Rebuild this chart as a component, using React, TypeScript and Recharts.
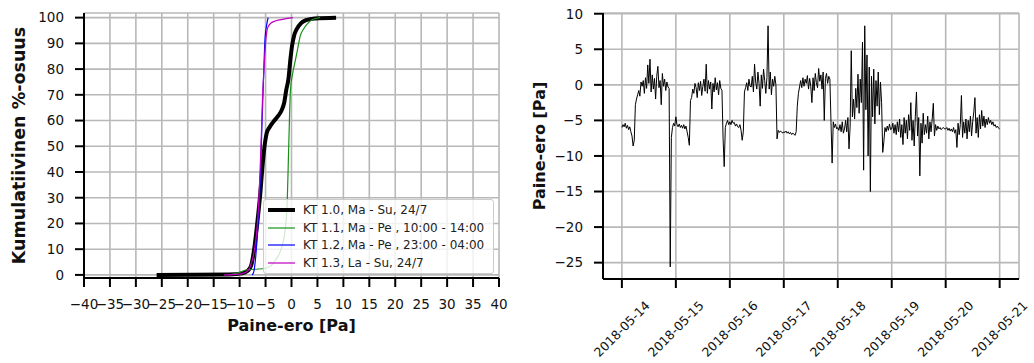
import { LineChart, Line, XAxis, YAxis, CartesianGrid, Legend } from 'recharts';

// cumulative distribution, [paine-ero Pa, % osuus]
const kt10 = [
  [-26, 0], [-12, 0.2], [-9.5, 0.6], [-8.5, 1.5], [-7.8, 3.5], [-7.2, 10], [-6.5, 22], [-6.0, 32],
  [-5.6, 42], [-5.2, 50], [-4.8, 55], [-4.2, 57.5], [-3.5, 59.5], [-2.5, 62], [-1.9, 64], [-1.4, 67],
  [-1.0, 72], [-0.6, 76], [-0.2, 84], [0.1, 89], [0.5, 93], [1.0, 95.5], [1.8, 97.8], [2.8, 99],
  [4.5, 99.7], [8.6, 100],
];
const kt11 = [
  [-12, 0], [-10, 1], [-9, 1.8], [-7, 2.2], [-5, 2.6], [-4, 3.5], [-3, 6], [-2, 10], [-1.2, 18],
  [-0.8, 30], [-0.6, 45], [-0.4, 60], [-0.2, 72], [0.2, 78], [0.7, 83], [1.2, 88], [1.7, 93],
  [2.3, 95.5], [3, 97.5], [4, 99.2], [5.5, 100],
];
const kt12 = [
  [-7.6, 0], [-7.3, 1], [-7.0, 5], [-6.7, 12], [-6.4, 22], [-6.1, 33], [-5.9, 45], [-5.7, 58],
  [-5.5, 70], [-5.3, 82], [-5.1, 92], [-4.8, 97], [-4.5, 100],
];
const kt13 = [
  [-13, 0], [-10, 0.3], [-8.8, 1], [-8, 3], [-7.3, 8], [-6.8, 15], [-6.4, 25], [-6.1, 38],
  [-5.8, 55], [-5.6, 68], [-5.3, 80], [-5.0, 90], [-4.6, 96], [-4.0, 97.8], [-3.0, 98.8],
  [-1.5, 99.4], [0.3, 100],
];

const xTicksCdf = [-40, -35, -30, -25, -20, -15, -10, -5, 0, 5, 10, 15, 20, 25, 30, 35, 40];
const yTicksCdf = [0, 10, 20, 30, 40, 50, 60, 70, 80, 90, 100];

// half-hourly paine-ero [Pa], one array per day
const may14 = [-6.0, -5.6, -5.9, -5.4, -6.1, -5.7, -6.3, -5.9, -6.6, -7.2, -8.6, -7.8, -2.8, -2.0, -1.4, -0.8, -1.6, 0.4, -0.2, 0.6,
  -1.2, 1.0, -0.5, 2.8, 0.2, 3.6, -1.0, 1.4, -0.6, 0.9, -2.0, 1.2, 2.6, -0.4, 0.6, -2.8, 1.6, -0.2, 0.8, -0.8,
  0.4, -0.3, -0.5, -25.6, -7.4, -6.0, -5.4, -5.8];
const may15 = [-4.5, -5.6, -5.9, -5.5, -6.0, -5.7, -6.1, -5.6, -6.2, -5.8, -6.6, -7.4, -8.5, -2.2, -1.8, -0.6, -1.2, 0.2, -0.4, -1.8,
  0.3, -0.8, 0.5, -1.5, -0.2, 0.8, -0.9, 2.9, -1.2, 0.6, -0.6, 0.4, -3.4, 0.2, -1.0, 1.0, -0.7, 0.3, -1.4, 0.6,
  -0.5, -0.8, -7.5, -11.5, -6.0, -5.4, -5.0, -5.6];
const may16 = [-5.2, -5.6, -5.0, -5.4, -5.3, -5.8, -5.5, -5.9, -6.0, -5.6, -6.4, -7.8, -6.6, -1.0, -0.4, 0.3, -0.8, 0.8, -0.2, -0.3,
  1.2, -1.0, 2.9, 0.4, -0.6, 1.8, 0.2, -3.0, 1.4, -0.5, 2.2, 0.6, -1.2, 1.0, 8.3, -0.6, 1.8, -1.4, 0.8, -0.2,
  1.2, 0.0, -7.6, -6.4, -6.7, -6.5, -6.6, -6.8];
const may17 = [-6.6, -6.7, -6.5, -6.8, -6.6, -6.9, -6.7, -7.0, -6.8, -6.9, -7.1, -6.6, -3.0, -1.2, -0.3, 0.6, -0.4, 1.0, -0.2, 0.8,
  0.2, 1.3, -0.6, 0.9, -0.2, -2.5, 1.0, -0.8, 1.6, 0.3, -0.4, 2.3, 0.5, 1.4, -0.6, 1.8, -5.0, 0.9, 1.6, 0.2,
  1.2, 0.8, -5.3, -11.0, -5.2, -6.0, -5.5, -6.2];
const may18 = [-6.0, -6.4, -5.6, -6.6, -5.2, -6.8, -6.2, -5.0, -6.6, -4.6, -9.0, -5.8, 4.8, -4.5, -2.0, -4.8, -0.5, -3.2, 1.5, -4.0,
  0.8, -2.5, 6.0, -12.0, 8.3, -3.5, 4.2, -10.0, 2.5, -15.0, 1.2, -4.5, 2.2, -5.5, 0.6, -3.0, 1.8, -4.2, 0.4, -2.5,
  -9.5, -8.0, -6.0, -6.6, -5.8, -6.4, -5.5, -6.3];
const may19 = [-6.2, -5.4, -6.8, -5.6, -7.0, -5.2, -6.6, -4.8, -7.4, -5.6, -8.4, -4.6, -6.8, -5.0, -7.6, -4.2, -6.4, -2.5, -7.8, -5.0,
  -8.6, -4.4, -1.0, -7.2, -4.6, -12.8, -5.4, -8.2, -4.0, -7.0, -5.6, -6.8, -4.4, -7.6, -5.2, -6.6, -4.8, -2.6, -7.2, -5.6,
  -6.4, -5.8, -6.2, -6.0, -6.3, -6.1, -6.0, -6.2];
const may20 = [-6.2, -6.0, -6.4, -6.1, -6.5, -6.2, -6.6, -6.0, -6.8, -6.3, -8.8, -5.4, -7.0, -5.6, -1.5, -7.4, -5.2, -6.8, -4.8, -7.6,
  -5.0, -6.6, -4.4, -7.2, -5.2, -3.8, -1.8, -6.8, -4.6, -7.4, -4.2, -6.2, -3.6, -5.8, -4.4, -6.0, -4.8, -5.6, -4.6, -5.4,
  -5.0, -5.6, -5.2, -5.8, -5.6, -6.0, -5.8, -6.1];
const may21 = [-6.2];

const dateLabels = ['2018-05-14', '2018-05-15', '2018-05-16', '2018-05-17', '2018-05-18', '2018-05-19', '2018-05-20', '2018-05-21'];
const yTicksPressure = [-25, -20, -15, -10, -5, 0, 5, 10];

const toPoints = (pairs: number[][]) => pairs.map(([x, y]) => ({ x, y }));

const cdfSeries = [
  { name: 'KT 1.0, Ma - Su, 24/7', color: '#000000', width: 4, data: toPoints(kt10) },
  { name: 'KT 1.1, Ma - Pe , 10:00 - 14:00', color: '#1a8f1a', width: 1.2, data: toPoints(kt11) },
  { name: 'KT 1.2, Ma - Pe , 23:00 - 04:00', color: '#0000ff', width: 1.2, data: toPoints(kt12) },
  { name: 'KT 1.3, La - Su, 24/7', color: '#bf00bf', width: 1.2, data: toPoints(kt13) },
];

// x in hours from 2018-05-14 00:00, samples every 30 min
const halfHourly = [...may14, ...may15, ...may16, ...may17, ...may18, ...may19, ...may20, ...may21];
const pressureData = halfHourly.map((v, i) => ({ h: i / 2, v }));
const dayTicks = dateLabels.map((_, i) => i * 24);

const font = '"DejaVu Sans", sans-serif';
const tickStyle = { fontSize: 13.5, fill: '#111', fontFamily: font };
const axisLabelStyle = { fontSize: 16, fontWeight: 'bold', fill: '#111', fontFamily: font, textAnchor: 'middle' };
const spine = { stroke: '#000', strokeWidth: 2 };
const minus = (v: number) => String(v).replace('-', '\u2212');

function CdfLegend() {
  return (
    <div style={{ background: 'rgba(255,255,255,0.8)', border: '1px solid #ccc', borderRadius: 3, padding: '1px 0', width: 229, fontFamily: font, fontSize: 12, color: '#222' }}>
      {cdfSeries.map((s) => (
        <div key={s.name} style={{ display: 'flex', alignItems: 'center', height: 17.8, whiteSpace: 'nowrap' }}>
          <svg width={39} height={10}>
            <line x1={4} x2={31} y1={5} y2={5} stroke={s.color} strokeWidth={s.width} />
          </svg>
          <span>{s.name}</span>
        </div>
      ))}
    </div>
  );
}

function DateTick({ x, y, payload }: any) {
  const cy = y + 39;
  return (
    <text x={x} y={cy} transform={`rotate(-45, ${x}, ${cy})`} textAnchor="middle" dy="0.35em"
      fontSize={12.5} fill="#111" fontFamily={font}>
      {dateLabels[Math.round(payload.value / 24)]}
    </text>
  );
}

export default function App() {
  return (
    <div style={{ position: 'absolute', left: 0, top: 0, width: 1034, height: 363, background: '#fff' }}>
      <div style={{ position: 'absolute', left: 0, top: 0 }}>
        <LineChart width={520} height={363} margin={{ top: 13, right: 21, bottom: 25, left: 0 }}>
          <CartesianGrid stroke="#b8b8b8" strokeWidth={1.6} />
          <XAxis dataKey="x" type="number" domain={[-40, 40]} ticks={xTicksCdf} interval={0} allowDataOverflow
            tick={tickStyle} tickFormatter={minus} tickSize={9} tickMargin={12} height={60}
            axisLine={spine} tickLine={spine}
            label={{ value: 'Paine-ero [Pa]', position: 'insideBottom', offset: 7, style: axisLabelStyle }} />
          <YAxis type="number" domain={[-1.2, 101.8]} ticks={yTicksCdf} interval={0} allowDataOverflow
            tick={tickStyle} tickSize={9} tickMargin={11} width={84}
            axisLine={spine} tickLine={spine}
            label={{ value: 'Kumulatiivinen %-osuus', angle: -90, position: 'insideLeft', offset: 19, style: { ...axisLabelStyle, fontSize: 17.5 } }} />
          <XAxis xAxisId="top" orientation="top" type="number" domain={[-40, 40]} height={0} tick={false} tickLine={false} axisLine={spine} />
          <YAxis yAxisId="right" orientation="right" type="number" domain={[0, 1]} width={0} tick={false} tickLine={false} axisLine={spine} />
          {cdfSeries.map((s) => (
            <Line key={s.name} data={s.data} dataKey="y" name={s.name} type="monotone" stroke={s.color}
              strokeWidth={s.width} dot={false} isAnimationActive={false} />
          ))}
          <Legend layout="vertical" align="center" verticalAlign="middle" content={<CdfLegend />}
            wrapperStyle={{ left: 263, top: 199, width: 231, height: 'auto' }} />
        </LineChart>
      </div>
      <div style={{ position: 'absolute', left: 520, top: 0 }}>
        <LineChart width={514} height={363} data={pressureData} margin={{ top: 13, right: 15, bottom: 0, left: 0 }}>
          <CartesianGrid stroke="#b8b8b8" strokeWidth={1.6} />
          <XAxis dataKey="h" type="number" domain={[-8.4, 176.6]} ticks={dayTicks} interval={0} allowDataOverflow
            tick={<DateTick />} tickSize={9} tickMargin={2} height={84}
            axisLine={spine} tickLine={spine} />
          <YAxis type="number" domain={[-27.3, 10.1]} ticks={yTicksPressure} interval={0} allowDataOverflow
            tick={tickStyle} tickFormatter={minus} tickSize={9} tickMargin={11} width={83}
            axisLine={spine} tickLine={spine}
            label={{ value: 'Paine-ero [Pa]', angle: -90, position: 'insideLeft', offset: 19, style: axisLabelStyle }} />
          <XAxis xAxisId="top" orientation="top" type="number" domain={[0, 1]} height={0} tick={false} tickLine={false} axisLine={spine} />
          <YAxis yAxisId="right" orientation="right" type="number" domain={[0, 1]} width={0} tick={false} tickLine={false} axisLine={spine} />
          <Line dataKey="v" type="linear" stroke="#000" strokeWidth={1} dot={false} isAnimationActive={false} />
        </LineChart>
      </div>
    </div>
  );
}
